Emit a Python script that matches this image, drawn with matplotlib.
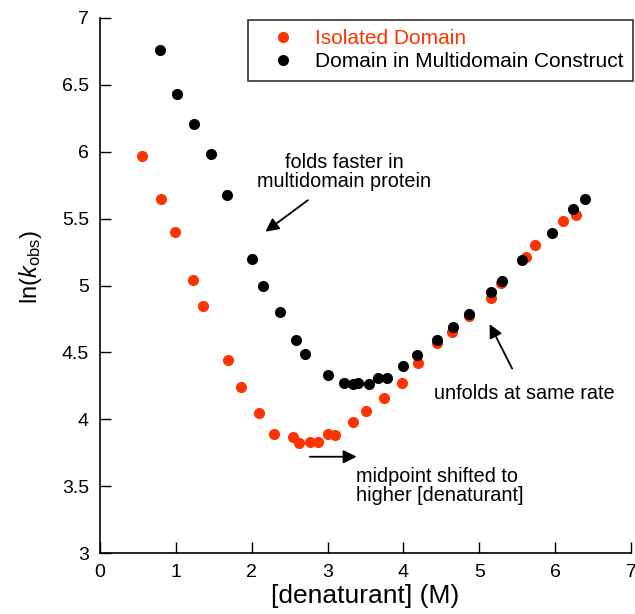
import matplotlib
matplotlib.use("Agg")
import matplotlib.pyplot as plt

# data
iso_x = [0.56, 0.81, 0.99, 1.22, 1.36, 1.69, 1.86, 2.09, 2.29, 2.55, 2.62, 2.77, 2.88,
         3.01, 3.10, 3.34, 3.51, 3.75, 3.98, 4.19, 4.44, 4.64, 4.87, 5.15, 5.28, 5.61,
         5.74, 6.11, 6.28]
iso_y = [5.97, 5.65, 5.40, 5.04, 4.85, 4.44, 4.24, 4.05, 3.89, 3.87, 3.82, 3.83, 3.83,
         3.89, 3.88, 3.98, 4.06, 4.16, 4.27, 4.42, 4.57, 4.65, 4.77, 4.91, 5.02, 5.21,
         5.30, 5.48, 5.53]

multi_x = [0.79, 1.01, 1.24, 1.46, 1.67, 2.00, 2.15, 2.37, 2.58, 2.70, 3.01, 3.22, 3.34,
           3.40, 3.54, 3.67, 3.78, 4.00, 4.18, 4.44, 4.66, 4.87, 5.15, 5.30, 5.56, 5.96,
           6.24, 6.40]
multi_y = [6.76, 6.43, 6.21, 5.98, 5.68, 5.20, 5.00, 4.80, 4.59, 4.49, 4.33, 4.27, 4.26,
           4.27, 4.26, 4.31, 4.31, 4.40, 4.48, 4.59, 4.69, 4.79, 4.95, 5.03, 5.19, 5.39,
           5.57, 5.65]

red = "#ff3300"

plt.rcParams["font.family"] = ["Liberation Sans", "DejaVu Sans"]
plt.rcParams["mathtext.fontset"] = "custom"
plt.rcParams["mathtext.rm"] = "Liberation Sans"
plt.rcParams["mathtext.it"] = "Liberation Sans:italic"

fig = plt.figure(figsize=(6.35, 6.14), dpi=100)
ax = fig.add_axes([0.1575, 0.0993, 0.8362, 0.8714])

ax.plot(iso_x, iso_y, "o", color=red, markersize=8, markeredgewidth=0, label="Isolated Domain")
ax.plot(multi_x, multi_y, "o", color="black", markersize=8, markeredgewidth=0,
        label="Domain in Multidomain Construct")

ax.set_xlim(0, 7)
ax.set_ylim(3, 7)
ax.set_xticks(range(0, 8))
ax.set_yticks([3, 3.5, 4, 4.5, 5, 5.5, 6, 6.5, 7])
ax.set_yticklabels(["3", "3.5", "4", "4.5", "5", "5.5", "6", "6.5", "7"])
ax.tick_params(direction="in", length=8, width=1, labelsize=14, pad=8)
ax.spines["top"].set_visible(False)
ax.spines["right"].set_visible(False)
for s in ["left", "bottom"]:
    ax.spines[s].set_linewidth(1.2)

ax.set_xlabel("[denaturant] (M)", fontsize=19, labelpad=2)
ax.set_ylabel(r"ln($k_{\mathrm{obs}}$)", fontsize=17)
ax.yaxis.set_label_coords(-0.105, 0.535)

leg = ax.legend(loc="upper right", bbox_to_anchor=(1.003, 0.997), fontsize=15,
                frameon=True, fancybox=False, edgecolor="black", handletextpad=0.25,
                borderpad=0.45, labelspacing=0.2, handlelength=2.5, borderaxespad=0)
leg.get_frame().set_linewidth(1.2)
leg.get_texts()[0].set_color(red)

arrow = dict(arrowstyle="-|>", color="black", lw=1.3, mutation_scale=20)
ax.annotate("", xy=(2.15, 5.39), xytext=(2.77, 5.65), arrowprops=arrow)
ax.text(3.22, 5.845, "folds faster in\nmultidomain protein", ha="center", va="center",
        fontsize=14.3, linespacing=1.0)

ax.annotate("", xy=(5.12, 4.73), xytext=(5.45, 4.36), arrowprops=arrow)
ax.text(5.6, 4.19, "unfolds at same rate", ha="center", va="center", fontsize=14.3)

ax.annotate("", xy=(3.42, 3.72), xytext=(2.73, 3.72), arrowprops=arrow)
ax.text(3.37, 3.50, "midpoint shifted to\nhigher [denaturant]", ha="left", va="center",
        fontsize=14.3, linespacing=1.0)

fig.savefig("out.png", dpi=100)
